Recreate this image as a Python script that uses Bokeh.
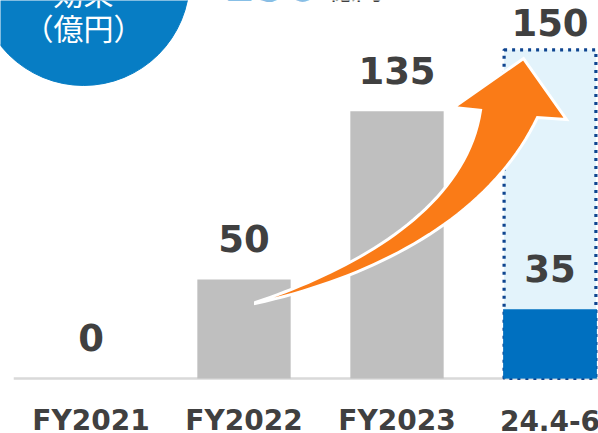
from bokeh.plotting import figure
from bokeh.models import Range1d
from bokeh.core.properties import value
from bokeh.embed import file_html
from bokeh.resources import INLINE
import numpy as np

# ---- data ----
categories = ["FY2021", "FY2022", "FY2023", "24.4-6"]
actual = [0, 50, 135, 35]
value_labels = ["0", "50", "135", "35"]
target_label = "150"
target_box_top = 166          # drawn height of the dotted target box, as seen
unit_title = ["効果", "（億円）"]
headline = ["150", "億円"]

# ---- styles ----
GRAY = "#bfbfbf"
BLUE = "#0070c0"
TXT = "#404040"
ORANGE = "#fa7b17"
CIRCLE = "#077dc4"
bar_colors = [GRAY, GRAY, GRAY, BLUE]
FONT = value("DejaVu Sans")
CJK = value("Noto Sans CJK JP")

xs = list(range(len(categories)))

p = figure(width=598, height=433, output_backend="svg", toolbar_location=None,
           x_range=Range1d(-0.5915, 3.317), y_range=Range1d(-27.78, 190.9),
           x_axis_type=None, y_axis_type=None, min_border=0)
p.grid.visible = False
p.outline_line_color = None
p.background_fill_color = "white"
p.border_fill_color = "white"

# baseline
p.segment(x0=[-0.505], y0=[0], x1=[3.4], y1=[0], line_color="#d9d9d9", line_width=2.5)

# bars
p.vbar(x=xs, top=actual, bottom=0, width=0.61, fill_color=bar_colors, line_color=None)

# dotted target box for last category
p.quad(left=[xs[3] - 0.3], right=[xs[3] + 0.3], bottom=[0], top=[target_box_top],
       fill_color="#e3f3fb", line_color="#0f4590", line_width=3.2, line_dash="3 5")
p.vbar(x=[xs[3]], top=[actual[3]], bottom=0, width=0.61, fill_color=BLUE, line_color=None)

# curved arrow (decoration)
def bez(p0, p1, p2, p3, n=40):
    t = np.linspace(0, 1, n)[:, None]
    pts = ((1 - t) ** 3) * np.array(p0) + 3 * ((1 - t) ** 2) * t * np.array(p1) \
        + 3 * (1 - t) * t ** 2 * np.array(p2) + t ** 3 * np.array(p3)
    return pts

upper = bez((1.075, 38.4), (1.696, 54.5), (2.448, 84.8), (2.546, 135.4))
lower = bez((1.075, 37.9), (1.892, 52.0), (2.611, 82.3), (2.918, 131.8))
head = np.array([(2.369, 136.9), (2.827, 161.6), (3.108, 130.8)])
poly = np.vstack([upper, head, lower[::-1]])
p.patch(x=poly[:, 0], y=poly[:, 1], fill_color=ORANGE, line_color="white",
        line_width=3, line_join="miter")

# value labels
p.text(x=xs, y=actual, text=value_labels, text_font=FONT, text_font_style="bold",
       text_font_size="37px", text_color=TXT, text_align="center",
       text_baseline="alphabetic", y_offset=-41)
p.text(x=[xs[3]], y=[target_box_top], text=[target_label], text_font=FONT,
       text_font_style="bold", text_font_size="37px", text_color=TXT,
       text_align="center", text_baseline="alphabetic", y_offset=-27)

# category labels
p.text(x=xs, y=[0] * len(xs), text=categories, text_font=FONT, text_font_style="bold",
       text_font_size="28px", text_color=TXT, text_align="center",
       text_baseline="alphabetic", y_offset=42)

# unit circle top-left
p.scatter(x=[-0.049], y=[201.5], size=212, marker="circle", color=CIRCLE)
p.text(x=[-0.049, -0.049], y=[195.0, 177.3], text=unit_title, text_font=CJK,
       text_font_size="30px", text_color="white", text_align="center",
       text_baseline="middle")

# headline (mostly cut off above)
p.text(x=[0.86], y=[199.0], text=[headline[0]], text_font=FONT, text_font_style="bold",
       text_font_size="46px", text_color="#1e88d0", text_align="left",
       text_baseline="alphabetic")
p.text(x=[1.55], y=[197.0], text=[headline[1]], text_font=CJK,
       text_font_size="27px", text_color=TXT, text_align="left",
       text_baseline="alphabetic")

open("out.html", "w").write(file_html(p, INLINE))
